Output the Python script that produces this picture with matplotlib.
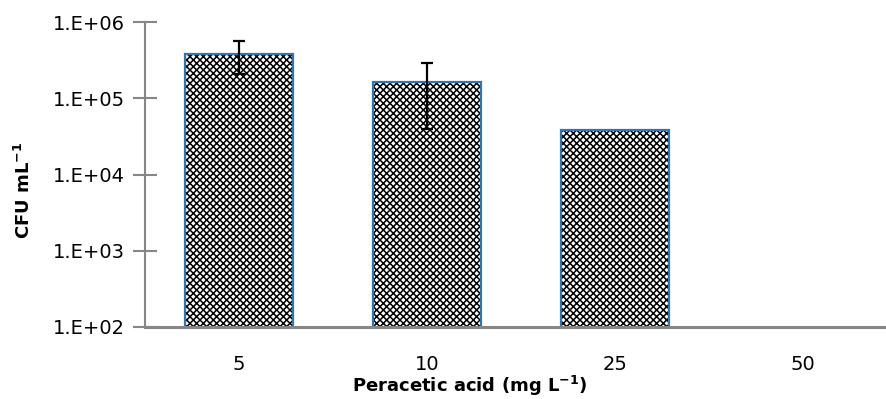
import numpy as np
import matplotlib
matplotlib.use("Agg")
import matplotlib.pyplot as plt
from matplotlib.ticker import FixedLocator, FuncFormatter, NullLocator

# data
concentrations = ["5", "10", "25", "50"]
cfu_mean = [3.8e5, 1.65e5, 3.8e4, np.nan]
cfu_err = [1.75e5, 1.25e5, np.nan, np.nan]
ytick_vals = [1e2, 1e3, 1e4, 1e5, 1e6]

plt.rcParams['font.family'] = ['DejaVu Sans']
plt.rcParams['hatch.linewidth'] = 1.1

fig = plt.figure(figsize=(8.87, 3.99), dpi=100)
ax = fig.add_axes([145 / 887, 1 - 327 / 399, (887 - 145) / 887, (327 - 22) / 399])

x = np.arange(len(concentrations))
heights = np.array(cfu_mean)

# hatch layer (black pattern) then blue outline on top
ax.bar(x, heights, width=0.574, color="white", edgecolor="black",
       hatch="xxxxx", linewidth=0, zorder=2)
ax.bar(x, heights, width=0.574, fill=False, edgecolor="#2E75B6",
       linewidth=1.6, zorder=3)
ax.errorbar(x, heights, yerr=cfu_err, fmt="none", ecolor="black",
            elinewidth=1.6, capsize=4.5, capthick=1.6, zorder=4)

ax.set_yscale("log")
ax.set_ylim(1e2, 1e6)
ax.set_xlim(-0.5, (887 - 239) / 188)
ax.yaxis.set_major_locator(FixedLocator(ytick_vals))
ax.yaxis.set_minor_locator(NullLocator())
ax.yaxis.set_major_formatter(FuncFormatter(lambda v, p: "1.E+%02d" % round(np.log10(v))))
ax.set_xticks(x)
ax.set_xticklabels(concentrations)

for side in ["top", "right"]:
    ax.spines[side].set_visible(False)
ax.spines["left"].set_color("#868686")
ax.spines["left"].set_linewidth(1.5)
ax.spines["bottom"].set_color("#868686")
ax.spines["bottom"].set_linewidth(2.2)
ax.spines["bottom"].set_zorder(5)

ax.tick_params(axis="y", direction="inout", length=17, width=1.5,
               color="#868686", labelsize=14, pad=6)
ax.tick_params(axis="x", length=0, labelsize=14, pad=20)

fig.text(24 / 887, 1 - 190 / 399, "CFU mL$^{\\mathbf{-1}}$", rotation=90,
         ha="center", va="center", fontsize=13, fontweight="bold")
fig.text(470 / 887, 1 - 386 / 399, "Peracetic acid (mg L$^{\\mathbf{-1}}$)",
         ha="center", va="center", fontsize=13, fontweight="bold")

fig.savefig("out.png", dpi=100)
